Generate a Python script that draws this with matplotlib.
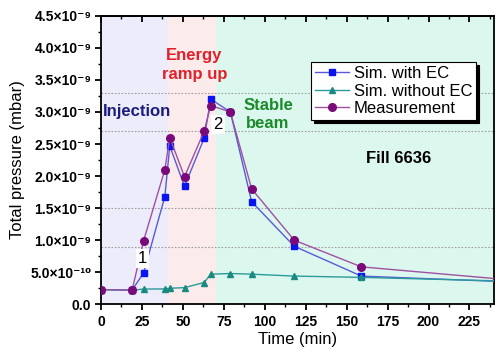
import matplotlib
matplotlib.use("Agg")
import matplotlib.pyplot as plt
from matplotlib.ticker import FixedLocator, MultipleLocator, FuncFormatter
import numpy as np

plt.rcParams['font.family'] = ['Liberation Sans', 'DejaVu Sans']

# Data (time in min, pressure in mbar)
t_ec = [0, 19, 26, 39, 42, 51, 63, 67, 79, 92, 118, 159, 250]
p_ec = [0.23e-9, 0.22e-9, 0.49e-9, 1.68e-9, 2.47e-9, 1.84e-9, 2.59e-9, 3.20e-9, 3.0e-9, 1.60e-9, 0.905e-9, 0.44e-9, 0.35e-9]

t_noec = [0, 19, 26, 39, 42, 51, 63, 67, 79, 92, 118, 159, 250]
p_noec = [0.23e-9, 0.22e-9, 0.237e-9, 0.24e-9, 0.25e-9, 0.26e-9, 0.34e-9, 0.47e-9, 0.48e-9, 0.47e-9, 0.44e-9, 0.42e-9, 0.36e-9]

t_meas = [0, 19, 26, 39, 42, 51, 63, 67, 79, 92, 118, 159, 250]
p_meas = [0.23e-9, 0.22e-9, 0.99e-9, 2.10e-9, 2.60e-9, 1.99e-9, 2.70e-9, 3.10e-9, 3.0e-9, 1.80e-9, 1.0e-9, 0.584e-9, 0.38e-9]

x_ticks = [0, 25, 50, 75, 100, 125, 150, 175, 200, 225]
y_ticks = [0.0, 0.5e-9, 1.0e-9, 1.5e-9, 2.0e-9, 2.5e-9, 3.0e-9, 3.5e-9, 4.0e-9, 4.5e-9]

phases = [(0, 41, '#ececfb'), (41, 70, '#fcebeb'), (70, 240, '#dcf8ee')]
ref_lines = [3.3e-9, 2.7e-9, 1.5e-9, 0.9e-9]

fig = plt.figure(figsize=(4.96, 3.55), dpi=100)
ax = fig.add_axes([0.2036, 0.1428, 0.7924, 0.8128])

for x0, x1, c in phases:
    ax.axvspan(x0, x1, color=c, zorder=0, lw=0)
for y in ref_lines:
    ax.axhline(y, color='#a0a0a0', ls=(0, (1.5, 1.5)), lw=0.8, zorder=1)

ax.plot(t_ec, p_ec, '-', color='#5a5ad8', lw=1.0, marker='s', ms=4,
        mfc='#0a14f0', mec='#0a14f0', label='Sim. with EC', zorder=3)
ax.plot(t_noec, p_noec, '-', color='#2a9a9a', lw=1.0, marker='^', ms=5,
        mfc='#1a8a80', mec='#1a8a80', label='Sim. without EC', zorder=3)
ax.plot(t_meas, p_meas, '-', color='#a050a0', lw=1.0, marker='o', ms=5.5,
        mfc='#7a0a7a', mec='#7a0a7a', label='Measurement', zorder=4)

ax.set_xlim(0, 240)
ax.set_ylim(0, 4.5e-9)
ax.xaxis.set_major_locator(FixedLocator(x_ticks))
ax.xaxis.set_minor_locator(MultipleLocator(12.5))
ax.yaxis.set_major_locator(FixedLocator(y_ticks))
ax.yaxis.set_minor_locator(MultipleLocator(0.25e-9))

SUP = str.maketrans('-0123456789', '⁻⁰¹²³⁴⁵⁶⁷⁸⁹')

def fmt(v, pos):
    if abs(v) < 1e-15:
        return '0.0'
    e = int(np.floor(np.log10(abs(v)) + 1e-9))
    m = v / 10**e
    return '%.1f×10%s' % (m, str(e).translate(SUP))

ax.yaxis.set_major_formatter(FuncFormatter(fmt))
ax.tick_params(axis='both', which='major', length=4, width=1.3, labelsize=10, direction='out')
ax.tick_params(axis='both', which='minor', length=2.5, width=1.0, direction='out')
ax.tick_params(axis='y', labelsize=10, pad=3)
for lab in ax.get_xticklabels() + ax.get_yticklabels():
    lab.set_fontweight('bold')

sec = ax.secondary_xaxis('top')
sec.xaxis.set_major_locator(FixedLocator(x_ticks))
sec.xaxis.set_minor_locator(MultipleLocator(12.5))
sec.tick_params(which='major', direction='in', length=4, width=1.3, labeltop=False)
sec.tick_params(which='minor', direction='in', length=2.5, width=1.0)
sec.spines['top'].set_linewidth(1.3)

for s in ax.spines.values():
    s.set_linewidth(1.3)

ax.set_xlabel('Time (min)', fontsize=12, labelpad=2)
ax.set_ylabel('Total pressure (mbar)', fontsize=12, labelpad=4)

ax.text(1, 3.0e-9, 'Injection', color='#1c1c80', fontsize=12, fontweight='bold',
        ha='left', va='center', zorder=5)
ax.text(57, 3.73e-9, 'Energy\nramp up', color='#e0202a', fontsize=12, fontweight='bold',
        ha='center', va='center', linespacing=1.3, zorder=5)
ax.text(102, 2.96e-9, 'Stable\nbeam', color='#1a8a2a', fontsize=12, fontweight='bold',
        ha='center', va='center', linespacing=1.2, zorder=5)
ax.text(181.7, 2.28e-9, 'Fill 6636', color='black', fontsize=12, fontweight='bold',
        ha='center', va='center', zorder=5)
ax.text(25.2, 0.714e-9, '1', fontsize=12, ha='center', va='center', zorder=5,
        bbox=dict(facecolor='white', edgecolor='none', pad=1.5))
ax.text(71.5, 2.81e-9, '2', fontsize=12, ha='center', va='center', zorder=5,
        bbox=dict(facecolor='white', edgecolor='none', pad=1.5))

leg = ax.legend(loc='upper left', bbox_to_anchor=(0.535, 0.84), fontsize=12,
                frameon=True, fancybox=False, framealpha=1, edgecolor='black',
                shadow={'color': 'black', 'alpha': 1}, handlelength=2.0,
                handletextpad=0.3, borderpad=0.25, labelspacing=0.15,
                borderaxespad=0)
leg.get_frame().set_linewidth(0.8)
leg.set_zorder(6)

fig.savefig('out.png', dpi=100)
